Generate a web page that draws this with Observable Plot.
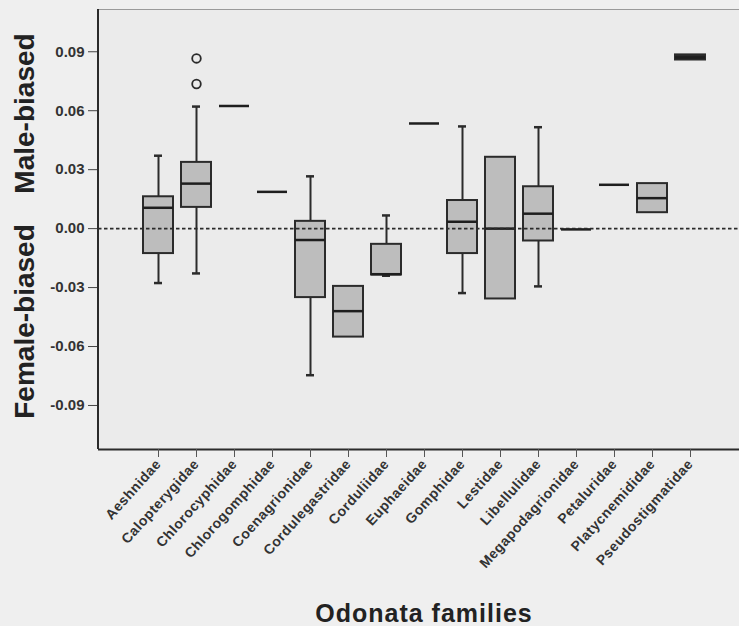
<!DOCTYPE html>
<html>
<head>
<meta charset="utf-8">
<script src="https://cdn.jsdelivr.net/npm/d3@7"></script>
<script src="https://cdn.jsdelivr.net/npm/@observablehq/plot@0.6"></script>
<style>
  html, body { margin: 0; padding: 0; background: #efefef; }
  #chart { width: 739px; height: 626px; }
</style>
</head>
<body>
<div id="chart"></div>
<script>
// ---- data ----
const families = ["Aeshnidae", "Calopterygidae", "Chlorocyphidae", "Chlorogomphidae", "Coenagrionidae",
  "Cordulegastridae", "Corduliidae", "Euphaeidae", "Gomphidae", "Lestidae", "Libellulidae",
  "Megapodagrionidae", "Petaluridae", "Platycnemididae", "Pseudostigmatidae"];
const whiskerLow  = [-0.0277, -0.0228, 0.0624, 0.0187, -0.0746, -0.0552, -0.0240, 0.0535, -0.0328, -0.0358, -0.0294, -0.0004, 0.0223, 0.0081, 0.0858];
const q1          = [-0.0127,  0.0108, 0.0624, 0.0187, -0.0351, -0.0552, -0.0236, 0.0535, -0.0127, -0.0358, -0.0063, -0.0004, 0.0223, 0.0081, 0.0858];
const median      = [ 0.0106,  0.0229, 0.0624, 0.0187, -0.0058, -0.0420, -0.0232, 0.0535,  0.0035,  0.0000,  0.0076, -0.0004, 0.0223, 0.0155, 0.0871];
const q3          = [ 0.0162,  0.0337, 0.0624, 0.0187,  0.0037, -0.0294, -0.0080, 0.0535,  0.0143,  0.0363,  0.0213, -0.0004, 0.0223, 0.0229, 0.0884];
const whiskerHigh = [ 0.0371,  0.0621, 0.0624, 0.0187,  0.0266, -0.0294,  0.0067, 0.0535,  0.0520,  0.0363,  0.0516, -0.0004, 0.0223, 0.0229, 0.0884];
const outlierFamily = ["Calopterygidae", "Calopterygidae"];
const outlierValue  = [0.0736, 0.0866];
const yTicks = [0.09, 0.06, 0.03, 0.00, -0.03, -0.06, -0.09];
const yDomain = [-0.1124, 0.1115];

// ---- tables ----
const boxes = families.map((f, i) => ({family: f, lo: whiskerLow[i], q1: q1[i], med: median[i], q3: q3[i], hi: whiskerHigh[i]}));
const lowerWhiskers = boxes.filter(d => d.lo < d.q1);
const upperWhiskers = boxes.filter(d => d.hi > d.q3);
const outliers = outlierFamily.map((f, i) => ({family: f, value: outlierValue[i]}));

const W = 739, H = 626, mL = 98, mT = 9, mB = 177;
const ink = "#2b2b2b";

const plot = Plot.plot({
  width: W, height: H,
  marginLeft: mL, marginRight: 0, marginTop: mT, marginBottom: mB,
  style: {background: "transparent", fontFamily: "'Liberation Sans', Arial, sans-serif"},
  x: {type: "band", domain: families, range: [127.95, 720.45], padding: 0.22, label: null},
  y: {domain: yDomain, label: null},
  marks: [
    Plot.frame({fill: "#ebebeb", stroke: null}),
    Plot.ruleY([yDomain[1]], {stroke: "#9a9a9a", strokeWidth: 1}),
    Plot.ruleY([yDomain[0]], {stroke: ink, strokeWidth: 2}),
    Plot.ruleX(lowerWhiskers, {x: "family", y1: "lo", y2: "q1", stroke: ink, strokeWidth: 2}),
    Plot.ruleX(upperWhiskers, {x: "family", y1: "q3", y2: "hi", stroke: ink, strokeWidth: 2}),
    Plot.tickY(lowerWhiskers, {x: "family", y: "lo", stroke: ink, strokeWidth: 2.5, insetLeft: 11, insetRight: 11}),
    Plot.tickY(upperWhiskers, {x: "family", y: "hi", stroke: ink, strokeWidth: 2.5, insetLeft: 11, insetRight: 11}),
    Plot.barY(boxes, {x: "family", y1: "q1", y2: "q3",
      fill: d => (d.q3 - d.q1 < 0.004 ? ink : "#bdbdbd"), stroke: ink, strokeWidth: 2}),
    Plot.tickY(boxes, {x: "family", y: "med", stroke: "#1e1e1e", strokeWidth: 2.5}),
    Plot.ruleY([0], {stroke: ink, strokeWidth: 1.6, strokeDasharray: "3.5,2.5"}),
    Plot.dot(outliers, {x: "family", y: "value", r: 4.3, stroke: ink, strokeWidth: 1.8, fill: "#ebebeb"}),
    Plot.axisY({ticks: yTicks, tickFormat: d => d.toFixed(2), tickSize: 10, tickPadding: 4,
      fontSize: 15, fontWeight: "bold", stroke: "#444", fill: "#333", label: null}),
    Plot.axisX({tickSize: 8, tickRotate: -48, tickPadding: 4, fontSize: 14, fontWeight: "bold",
      stroke: "#555", fill: "#333", label: null})
  ]
});

document.getElementById("chart").appendChild(plot);

const svg = d3.select(plot);
// slightly tracked x tick labels, as in the reference
svg.selectAll('g[aria-label="x-axis tick label"] text').attr("letter-spacing", 0.5);
// frame's left edge and axis titles
svg.append("line").attr("x1", mL).attr("x2", mL).attr("y1", mT).attr("y2", H - mB)
  .attr("stroke", ink).attr("stroke-width", 2);
const titleFont = "'Liberation Sans', Arial, sans-serif";
svg.append("text").attr("transform", "translate(34,113.5) rotate(-90)")
  .attr("text-anchor", "middle").attr("font-family", titleFont).attr("font-weight", "bold")
  .attr("font-size", 28).attr("fill", "#222").text("Male-biased");
svg.append("text").attr("transform", "translate(34,321.5) rotate(-90)")
  .attr("text-anchor", "middle").attr("font-family", titleFont).attr("font-weight", "bold")
  .attr("font-size", 28).attr("fill", "#222").text("Female-biased");
svg.append("text").attr("x", 424).attr("y", 622)
  .attr("text-anchor", "middle").attr("font-family", titleFont).attr("font-weight", "bold")
  .attr("font-size", 25).attr("letter-spacing", 1).attr("fill", "#222").text("Odonata families");
</script>
</body>
</html>
